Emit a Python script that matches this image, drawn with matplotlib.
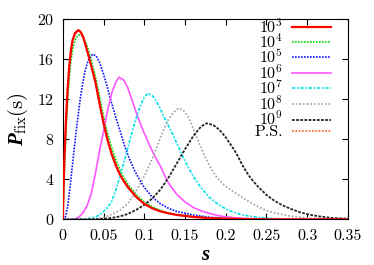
import matplotlib
matplotlib.use('Agg')
import matplotlib.pyplot as plt

# font setup: computer-modern look for ticks and legend
plt.rcParams['font.family'] = 'serif'
plt.rcParams['font.serif'] = ['cmr10', 'DejaVu Serif']
plt.rcParams['mathtext.fontset'] = 'cm'
plt.rcParams['axes.formatter.use_mathtext'] = True
plt.rcParams['mathtext.rm'] = 'cmr10'
plt.rcParams['mathtext.it'] = 'Liberation Serif:italic'
plt.rcParams['mathtext.bf'] = 'Liberation Serif:bold'
plt.rcParams['mathtext.bfit'] = 'Liberation Serif:italic:bold'

# data
s_small = [0, 0.001, 0.002, 0.004, 0.006, 0.008, 0.010, 0.012, 0.015, 0.019,
           0.022, 0.025, 0.030, 0.035, 0.040, 0.045, 0.050, 0.055, 0.060, 0.065,
           0.070, 0.075, 0.080, 0.090, 0.100, 0.110, 0.120, 0.130, 0.140, 0.160,
           0.180, 0.200, 0.250, 0.300, 0.350]
p_1e3 = [0, 3.5, 6.2, 10.2, 13.2, 15.4, 16.9, 17.9, 18.6, 18.9,
         18.7, 18.2, 16.8, 15.3, 13.7, 11.6, 9.6, 7.9, 6.5, 5.4,
         4.5, 3.8, 3.2, 2.25, 1.55, 1.1, 0.8, 0.6, 0.45, 0.25,
         0.13, 0.07, 0.01, 0, 0]
p_1e4 = [0, 2.6, 4.9, 8.8, 11.9, 14.2, 15.8, 16.9, 17.9, 18.4,
         18.45, 18.2, 17.3, 15.9, 14.3, 12.3, 10.3, 8.6, 7.2, 6.0,
         5.0, 4.2, 3.5, 2.5, 1.75, 1.25, 0.9, 0.65, 0.48, 0.27,
         0.14, 0.08, 0.015, 0, 0]
p_ps = [0, 3.3, 6.0, 10.0, 13.0, 15.2, 16.7, 17.8, 18.5, 18.8,
        18.7, 18.25, 16.9, 15.4, 13.8, 11.8, 9.8, 8.1, 6.7, 5.6,
        4.6, 3.9, 3.3, 2.3, 1.6, 1.15, 0.82, 0.62, 0.46, 0.26,
        0.14, 0.08, 0.01, 0, 0]

s_1e5 = [0, 0.003, 0.006, 0.009, 0.012, 0.015, 0.018, 0.021, 0.024, 0.027,
         0.030, 0.033, 0.037, 0.041, 0.045, 0.050, 0.055, 0.060, 0.065, 0.070,
         0.076, 0.082, 0.088, 0.094, 0.100, 0.110, 0.120, 0.130, 0.140, 0.160,
         0.180, 0.200, 0.230, 0.260, 0.350]
p_1e5 = [0, 0.2, 1.3, 3.3, 5.6, 7.8, 9.9, 11.8, 13.4, 14.7,
         15.6, 16.2, 16.5, 16.3, 15.7, 14.5, 13.1, 11.6, 10.2, 8.9,
         7.3, 6.0, 4.9, 4.0, 3.2, 2.2, 1.55, 1.1, 0.8, 0.45,
         0.22, 0.1, 0.03, 0, 0]

s_1e6 = [0, 0.010, 0.015, 0.020, 0.025, 0.030, 0.035, 0.040, 0.045, 0.050,
         0.055, 0.060, 0.065, 0.069, 0.075, 0.080, 0.085, 0.090, 0.095, 0.100,
         0.105, 0.110, 0.115, 0.120, 0.125, 0.130, 0.140, 0.150, 0.160, 0.170,
         0.180, 0.190, 0.200, 0.220, 0.250, 0.350]
p_1e6 = [0, 0, 0.05, 0.25, 0.7, 1.4, 2.6, 4.6, 6.8, 8.8,
         10.9, 12.6, 13.7, 14.2, 13.9, 13.1, 11.9, 10.7, 9.6, 8.6,
         7.7, 6.8, 6.0, 5.3, 4.4, 3.6, 2.5, 1.75, 1.2, 0.85,
         0.6, 0.4, 0.25, 0.1, 0.02, 0]

s_1e7 = [0, 0.020, 0.030, 0.040, 0.045, 0.050, 0.055, 0.060, 0.065, 0.070,
         0.075, 0.080, 0.085, 0.090, 0.095, 0.100, 0.105, 0.110, 0.115, 0.120,
         0.125, 0.130, 0.135, 0.140, 0.145, 0.150, 0.155, 0.160, 0.165, 0.170,
         0.180, 0.190, 0.200, 0.210, 0.220, 0.240, 0.260, 0.300, 0.350]
p_1e7 = [0, 0, 0.05, 0.25, 0.45, 0.8, 1.2, 1.8, 2.9, 4.3,
         5.7, 7.2, 8.7, 10.1, 11.3, 12.2, 12.6, 12.35, 11.8, 11.0,
         10.1, 9.3, 8.5, 7.6, 6.7, 5.85, 5.05, 4.35, 3.7, 3.15,
         2.2, 1.55, 1.05, 0.7, 0.45, 0.2, 0.08, 0.01, 0]

s_1e8 = [0, 0.030, 0.040, 0.050, 0.060, 0.070, 0.080, 0.090, 0.100, 0.105,
         0.110, 0.115, 0.120, 0.125, 0.130, 0.135, 0.142, 0.148, 0.155, 0.160,
         0.165, 0.170, 0.175, 0.180, 0.185, 0.190, 0.200, 0.210, 0.220, 0.230,
         0.240, 0.250, 0.260, 0.280, 0.300, 0.320, 0.350]
p_1e8 = [0, 0, 0.05, 0.2, 0.5, 0.9, 1.6, 2.8, 4.3, 5.2,
         6.1, 7.1, 8.2, 9.2, 10.0, 10.6, 11.1, 10.9, 10.1, 9.1,
         8.1, 7.1, 6.2, 5.4, 4.7, 4.1, 3.3, 2.75, 2.2, 1.7,
         1.25, 0.9, 0.65, 0.32, 0.15, 0.06, 0.01]

s_1e9 = [0, 0.040, 0.050, 0.060, 0.070, 0.080, 0.090, 0.100, 0.110, 0.120,
         0.130, 0.140, 0.150, 0.160, 0.170, 0.177, 0.185, 0.190, 0.195, 0.200,
         0.205, 0.210, 0.215, 0.220, 0.225, 0.230, 0.235, 0.240, 0.250, 0.260,
         0.270, 0.280, 0.290, 0.300, 0.315, 0.330, 0.350]
p_1e9 = [0, 0.02, 0.06, 0.15, 0.3, 0.55, 0.95, 1.45, 2.1, 3.0,
         4.2, 5.6, 7.0, 8.3, 9.3, 9.6, 9.4, 9.1, 8.7, 8.2,
         7.6, 7.0, 6.3, 5.5, 4.8, 4.2, 3.7, 3.25, 2.45, 1.85,
         1.4, 1.05, 0.75, 0.52, 0.3, 0.15, 0.07]

x_ticks = [0, 0.05, 0.1, 0.15, 0.2, 0.25, 0.3, 0.35]
x_tick_labels = ['0', '0.05', '0.1', '0.15', '0.2', '0.25', '0.3', '0.35']
y_ticks = [0, 4, 8, 12, 16, 20]

fig = plt.figure(figsize=(3.74, 2.65), dpi=100)
fig.subplots_adjust(left=0.168, right=0.930, bottom=0.172, top=0.928)
ax = fig.add_subplot(111)

ax.plot(s_small, p_ps, color='#ff5a1e', lw=1.2, ls=(0, (1, 1)), zorder=1, label='P.S.')
ax.plot(s_small, p_1e3, color='red', lw=1.6, ls='-', zorder=3, label=r'$10^3$')
ax.plot(s_small, p_1e4, color='#00dd00', lw=1.2, ls=(0, (1, 0.8)), zorder=2, label=r'$10^4$')
ax.plot(s_1e5, p_1e5, color='#1010ff', lw=1.2, ls=(0, (1, 0.8)), label=r'$10^5$')
ax.plot(s_1e6, p_1e6, color='#ff55ff', lw=1.2, ls='-', label=r'$10^6$')
ax.plot(s_1e7, p_1e7, color='#00e0ee', lw=1.2, ls=(0, (2, 1, 1, 1)), label=r'$10^7$')
ax.plot(s_1e8, p_1e8, color='#a0a0a0', lw=1.2, ls=(0, (1, 1.2)), label=r'$10^8$')
ax.plot(s_1e9, p_1e9, color='#222222', lw=1.3, ls=(0, (1.5, 0.8)), label=r'$10^9$')

ax.set_xlim(0, 0.35)
ax.set_ylim(0, 20)
ax.set_xticks(x_ticks)
ax.set_xticklabels(x_tick_labels)
ax.set_yticks(y_ticks)
ax.tick_params(direction='in', top=True, right=True, length=4, width=0.8,
               labelsize=11.5)
ax.tick_params(axis='x', pad=7)
ax.tick_params(axis='y', pad=6)

ax.set_xlabel(r'$\boldsymbol{s}$', fontsize=15, math_fontfamily='custom', labelpad=2)
ax.set_ylabel(r'$\boldsymbol{P}_{\mathrm{fix}}(\mathrm{s})$', fontsize=15,
              math_fontfamily='custom', labelpad=5)

# legend order as in the figure
handles, labels = ax.get_legend_handles_labels()
order = [1, 2, 3, 4, 5, 6, 7, 0]
ax.legend([handles[i] for i in order], [labels[i] for i in order],
          loc='upper right', markerfirst=False, frameon=False, fontsize=11.5,
          handlelength=2.45, handletextpad=0.55, labelspacing=-0.18,
          borderpad=0, borderaxespad=0, bbox_to_anchor=(0.94, 1.01))

plt.savefig('out.png', dpi=100)
